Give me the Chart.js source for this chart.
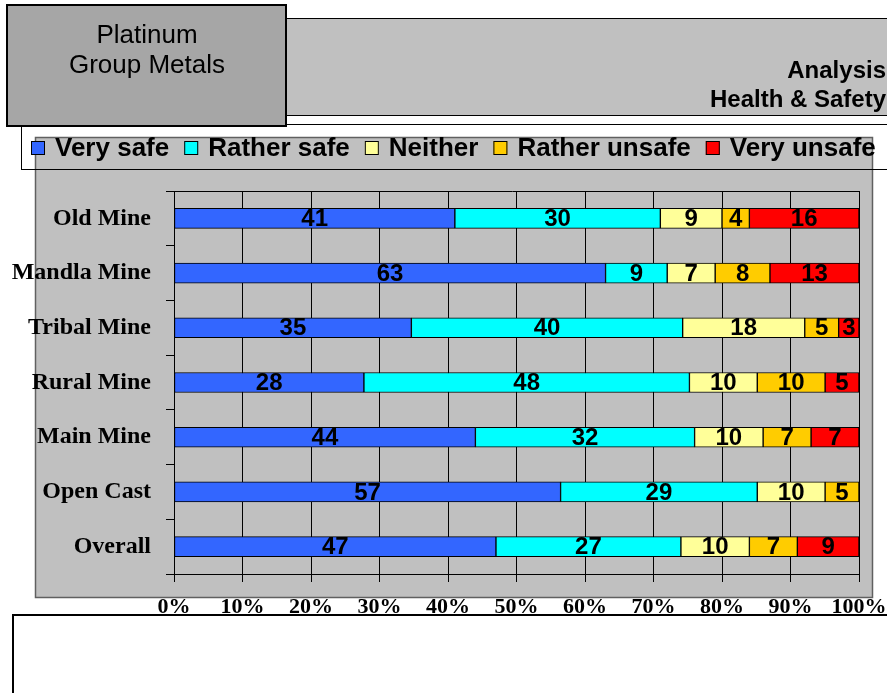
<!DOCTYPE html>
<html>
<head>
<meta charset="utf-8">
<script src="https://cdn.jsdelivr.net/npm/chart.js@4.4.1/dist/chart.umd.min.js"></script>
<style>
  html, body { margin: 0; padding: 0; background: #fff; }
  #wrap { position: relative; width: 887px; height: 693px; }
</style>
</head>
<body>
<div id="wrap"><canvas id="c" width="887" height="693"></canvas></div>
<script>
// survey answers per mine (counts as printed on the bars)
const mines        = ['Old Mine', 'Mandla Mine', 'Tribal Mine', 'Rural Mine', 'Main Mine', 'Open Cast', 'Overall'];
const verySafe     = [41, 63, 35, 28, 44, 57, 47];
const ratherSafe   = [30, 9, 40, 48, 32, 29, 27];
const neither      = [9, 7, 18, 10, 10, 10, 10];
const ratherUnsafe = [4, 8, 5, 10, 7, 5, 7];
const veryUnsafe   = [16, 13, 3, 5, 7, 0, 9];
const pctTicks     = ['0%', '10%', '20%', '30%', '40%', '50%', '60%', '70%', '80%', '90%', '100%'];

const seriesNames  = ['Very safe', 'Rather safe', 'Neither', 'Rather unsafe', 'Very unsafe'];
const seriesColors = ['#3366ff', '#00ffff', '#ffff99', '#ffcc00', '#ff0000'];
const series       = [verySafe, ratherSafe, neither, ratherUnsafe, veryUnsafe];

const SANS  = '"Liberation Sans", Arial, sans-serif';
const SERIF = '"Liberation Serif", "Times New Roman", serif';

// 100% stacked: share of each row total
const totals = mines.map((m, i) => series.reduce((s, arr) => s + arr[i], 0));

const datasets = series.map((arr, k) => ({
    label: seriesNames[k],
    counts: arr,
    data: arr.map((v, i) => v / totals[i] * 100),
    backgroundColor: seriesColors[k],
    borderColor: '#000',
    borderWidth: 1,
    borderSkipped: false,
    barThickness: 20
}));

// frame, header boxes and legend drawn round the chart
const framePlugin = {
    id: 'frame',
    beforeDraw(chart) {
        const ctx = chart.ctx;
        ctx.save();

        // header bar
        ctx.fillStyle = '#c0c0c0';
        ctx.fillRect(286, 18, 601, 98);
        ctx.strokeStyle = '#000';
        ctx.lineWidth = 1;
        ctx.strokeRect(286.5, 18.5, 605, 97);
        ctx.fillStyle = '#000';
        ctx.font = 'bold 24px ' + SANS;
        ctx.textAlign = 'right';
        ctx.textBaseline = 'alphabetic';
        ctx.fillText('Analysis', 886, 78);
        ctx.fillText('Health & Safety', 886, 107);

        // legend box
        ctx.fillStyle = '#fff';
        ctx.fillRect(21, 124, 870, 46);
        ctx.strokeRect(21.5, 124.5, 870, 45);

        // gray panel
        ctx.fillStyle = '#c0c0c0';
        ctx.fillRect(35, 137, 838, 461);
        ctx.strokeStyle = '#606060';
        ctx.lineWidth = 1.5;
        ctx.strokeRect(35.5, 137.5, 837, 460);
        ctx.strokeStyle = '#000';
        ctx.lineWidth = 1;
        ctx.beginPath();
        ctx.moveTo(21, 169.5);
        ctx.lineTo(887, 169.5);
        ctx.stroke();

        // title box
        ctx.fillStyle = '#a6a6a6';
        ctx.fillRect(7, 5, 279, 121);
        ctx.lineWidth = 2;
        ctx.strokeRect(7, 5, 279, 121);
        ctx.fillStyle = '#000';
        ctx.font = '26px ' + SANS;
        ctx.textAlign = 'center';
        ctx.fillText('Platinum', 147, 43);
        ctx.fillText('Group Metals', 147, 73);

        // legend items
        ctx.font = 'bold 26px ' + SANS;
        ctx.textAlign = 'left';
        ctx.textBaseline = 'middle';
        let x = 31;
        chart.data.datasets.forEach(ds => {
            ctx.fillStyle = ds.backgroundColor;
            ctx.fillRect(x, 141, 14, 14);
            ctx.lineWidth = 1;
            ctx.strokeStyle = '#000';
            ctx.strokeRect(x + 0.5, 141.5, 13, 13);
            ctx.fillStyle = '#000';
            ctx.fillText(ds.label, x + 24, 149);
            x += 24 + ctx.measureText(ds.label).width + 15;
        });

        ctx.restore();
    },
    beforeDatasetsDraw(chart) {
        const a = chart.chartArea;
        const ctx = chart.ctx;
        ctx.save();
        ctx.strokeStyle = '#000';
        ctx.lineWidth = 1;
        ctx.beginPath();
        ctx.moveTo(a.left - 8, Math.round(a.top) + 0.5);
        ctx.lineTo(a.right, Math.round(a.top) + 0.5);
        ctx.stroke();
        ctx.restore();
    },
    afterDatasetsDraw(chart) {
        const ctx = chart.ctx;
        ctx.save();
        ctx.font = 'bold 24px ' + SANS;
        ctx.fillStyle = '#000';
        ctx.textAlign = 'center';
        ctx.textBaseline = 'middle';
        chart.data.datasets.forEach((ds, k) => {
            chart.getDatasetMeta(k).data.forEach((bar, i) => {
                const v = ds.counts[i];
                if (!v) return;
                const p = bar.getCenterPoint();
                ctx.fillText(String(v), p.x, p.y + 1);
            });
        });
        ctx.restore();
    },
    afterDraw(chart) {
        // empty notes box under the chart
        const ctx = chart.ctx;
        ctx.save();
        ctx.fillStyle = '#fff';
        ctx.fillRect(13, 615, 880, 80);
        ctx.strokeStyle = '#000';
        ctx.lineWidth = 2;
        ctx.strokeRect(13, 615, 880, 90);
        ctx.restore();
    }
};

new Chart(document.getElementById('c'), {
    type: 'bar',
    data: { labels: mines, datasets: datasets },
    options: {
        indexAxis: 'y',
        responsive: false,
        animation: false,
        layout: { padding: { left: 0, right: 28, top: 191, bottom: 79 } },
        plugins: {
            legend: { display: false },
            tooltip: { enabled: false }
        },
        scales: {
            x: {
                stacked: true,
                min: 0,
                max: 100,
                ticks: {
                    stepSize: 10,
                    autoSkip: false,
                    maxRotation: 0,
                    padding: 12,
                    color: '#000',
                    font: { family: SERIF, size: 22, weight: 'bold' },
                    callback: (v, i) => pctTicks[i]
                },
                grid: { color: '#000', lineWidth: 1, tickLength: 8 },
                border: { color: '#000' },
                afterFit: s => { s.height = 40; s.paddingLeft = 0; s.paddingRight = 0; }
            },
            y: {
                stacked: true,
                ticks: {
                    padding: 15,
                    color: '#000',
                    font: { family: SERIF, size: 24, weight: 'bold' }
                },
                grid: { drawOnChartArea: false, color: '#000', tickLength: 8 },
                border: { color: '#000' },
                afterFit: s => { s.width = 174; }
            }
        }
    },
    plugins: [framePlugin]
});
</script>
</body>
</html>
